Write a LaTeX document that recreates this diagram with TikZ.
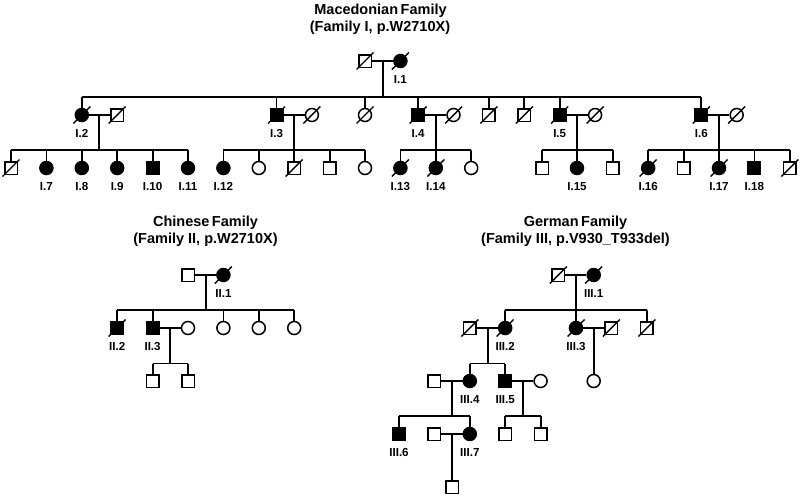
\documentclass[tikz,border=0pt]{standalone}
\usepackage{fontspec}
\setmainfont{Liberation Sans}
\tikzset{
  msq/.style={draw, rectangle, minimum size=12.5pt, inner sep=0pt, line width=1.5pt, fill=white},
  fci/.style={draw, circle, minimum size=13pt, inner sep=0pt, line width=1.5pt, fill=white},
  aff/.style={fill=black},
  link/.style={line width=1.8pt},
  dline/.style={line width=1.4pt},
  lbl/.style={font=\fontsize{11.6}{13}\selectfont\bfseries, anchor=base, inner sep=0pt},
  ttl/.style={font=\fontsize{14.5}{17}\selectfont\bfseries, anchor=base, inner sep=0pt},
}
\newcommand{\deadmark}[1]{\draw[dline] ([shift={(-8.5,8.5)}]#1.center) -- ([shift={(8.5,-8.5)}]#1.center);}
\newcommand{\plabel}[2]{\node[lbl] (l#1) at ([yshift=-22.5pt]#1.center) {#2};}
\newcommand{\tochild}[2]{\draw[link] (#1.north) -- (#1 |- #2);}
\begin{document}
\begin{tikzpicture}[x=1pt,y=-1pt]
\useasboundingbox (0,0) rectangle (800,496);

% ---------------- titles
\node[ttl] (t1a) at (380.5,14) {Macedonian\hspace{-1.5pt} Family};
\node[ttl] (t1b) at (380,31.8) {(Family I, p.W2710X)};
\node[ttl] (t2a) at (205.5,226) {Chinese\hspace{-1.5pt} Family};
\node[ttl] (t2b) at (205.5,243) {(Family II, p.W2710X)};
\node[ttl] (t3a) at (575.5,226) {German\hspace{-1.5pt} Family};
\node[ttl] (t3b) at (575.5,243) {(Family III, p.V930\_T933del)};

% ================= Macedonian family
\node[msq] (F0) at (365,61) {};
\node[fci,aff] (I1) at (400.4,61) {};
% generation 2
\node[fci,aff] (I2) at (81.8,115) {};
\node[msq] (S2) at (117.2,115) {};
\node[msq,aff] (I3) at (276.5,115) {};
\node[fci] (S3) at (311.9,115) {};
\node[fci] (C1) at (365,115) {};
\node[msq,aff] (I4) at (418.1,115) {};
\node[fci] (S4) at (453.5,115) {};
\node[msq] (B1) at (488.9,115) {};
\node[msq] (B2) at (524.3,115) {};
\node[msq,aff] (I5) at (559.7,115) {};
\node[fci] (S5) at (595.1,115) {};
\node[msq,aff] (I6) at (701.3,115) {};
\node[fci] (S6) at (736.7,115) {};
% generation 3
\node[msq] (G1) at (11,168) {};
\node[fci,aff] (I7) at (46.4,168) {};
\node[fci,aff] (I8) at (81.8,168) {};
\node[fci,aff] (I9) at (117.2,168) {};
\node[msq,aff] (I10) at (152.6,168) {};
\node[fci,aff] (I11) at (188,168) {};
\node[fci,aff] (I12) at (223.4,168) {};
\node[fci] (H1) at (258.8,168) {};
\node[msq] (H2) at (294.2,168) {};
\node[msq] (H3) at (329.6,168) {};
\node[fci] (H4) at (365,168) {};
\node[fci,aff] (I13) at (400.4,168) {};
\node[fci,aff] (I14) at (435.8,168) {};
\node[fci] (J1) at (471.2,168) {};
\node[msq] (K1) at (542,168) {};
\node[fci,aff] (I15) at (577,168) {};
\node[msq] (K2) at (612.8,168) {};
\node[fci,aff] (I16) at (648.2,168) {};
\node[msq] (L1) at (683.6,168) {};
\node[fci,aff] (I17) at (719,168) {};
\node[msq,aff] (I18) at (754.4,168) {};
\node[msq] (L2) at (789.8,168) {};

% couples and descents
\draw[link] (F0) -- (I1);
\coordinate (c0) at (383,61); \coordinate (s0) at (383,97);
\draw[link] (c0) -- (s0);
\draw[link] (I2 |- s0) -- (I6 |- s0);
\foreach \n in {I2,I3,C1,I4,B1,B2,I5,I6} {\tochild{\n}{s0}}

\draw[link] (I2) -- (S2);
\coordinate (c2) at (99,115); \coordinate (s2) at (99,150);
\draw[link] (c2) -- (s2);
\draw[link] (G1 |- s2) -- (I11 |- s2);
\foreach \n in {G1,I7,I8,I9,I10,I11} {\tochild{\n}{s2}}

\draw[link] (I3) -- (S3);
\coordinate (c3) at (294.2,115); \coordinate (s3) at (294.2,150);
\draw[link] (c3) -- (s3);
\draw[link] (I12 |- s3) -- (H4 |- s3);
\foreach \n in {I12,H1,H2,H3,H4} {\tochild{\n}{s3}}

\draw[link] (I4) -- (S4);
\coordinate (c4) at (435.8,115); \coordinate (s4) at (435.8,150);
\draw[link] (c4) -- (s4);
\draw[link] (I13 |- s4) -- (J1 |- s4);
\foreach \n in {I13,I14,J1} {\tochild{\n}{s4}}

\draw[link] (I5) -- (S5);
\coordinate (c5) at (577,115); \coordinate (s5) at (577,150);
\draw[link] (c5) -- (s5);
\draw[link] (K1 |- s5) -- (K2 |- s5);
\foreach \n in {K1,I15,K2} {\tochild{\n}{s5}}

\draw[link] (I6) -- (S6);
\coordinate (c6) at (719,115); \coordinate (s6) at (719,150);
\draw[link] (c6) -- (s6);
\draw[link] (I16 |- s6) -- (L2 |- s6);
\foreach \n in {I16,L1,I17,I18,L2} {\tochild{\n}{s6}}

% deceased marks
\foreach \n in {F0,I1,I2,S2,I3,S3,C1,I4,S4,B1,B2,I5,S5,I6,S6,G1,H2,I13,I14,I16,I17,L2} {\deadmark{\n}}

% labels
\plabel{I1}{I.1}
\plabel{I2}{I.2}
\plabel{I3}{I.3}
\plabel{I4}{I.4}
\plabel{I5}{I.5}
\plabel{I6}{I.6}
\plabel{I7}{I.7}
\plabel{I8}{I.8}
\plabel{I9}{I.9}
\plabel{I10}{I.10}
\plabel{I11}{I.11}
\plabel{I12}{I.12}
\plabel{I13}{I.13}
\plabel{I14}{I.14}
\plabel{I15}{I.15}
\plabel{I16}{I.16}
\plabel{I17}{I.17}
\plabel{I18}{I.18}

% ================= Chinese family
\node[msq] (CF) at (188,275) {};
\node[fci,aff] (II1) at (223.4,275) {};
\node[msq,aff] (II2) at (117.2,328) {};
\node[msq,aff] (II3) at (152.6,328) {};
\node[fci] (CS) at (188,328) {};
\node[fci] (CC1) at (223.4,328) {};
\node[fci] (CC2) at (258.8,328) {};
\node[fci] (CC3) at (294.2,328) {};
\node[msq] (CG1) at (152.6,381) {};
\node[msq] (CG2) at (188,381) {};

\draw[link] (CF) -- (II1);
\coordinate (cc0) at (205.7,275); \coordinate (cs0) at (205.7,310);
\draw[link] (cc0) -- (cs0);
\draw[link] (II2 |- cs0) -- (CC3 |- cs0);
\foreach \n in {II2,II3,CC1,CC2,CC3} {\tochild{\n}{cs0}}
\draw[link] (II3) -- (CS);
\coordinate (cc1) at (170.3,328); \coordinate (cs1) at (170.3,363.5);
\draw[link] (cc1) -- (cs1);
\draw[link] (CG1 |- cs1) -- (CG2 |- cs1);
\foreach \n in {CG1,CG2} {\tochild{\n}{cs1}}

\deadmark{II1}
\deadmark{II2}
\plabel{II1}{II.1}
\plabel{II2}{II.2}
\plabel{II3}{II.3}

% ================= German family
\node[msq] (GF) at (558.3,275) {};
\node[fci,aff] (III1) at (593.7,275) {};
\node[msq] (GS2) at (469.8,328) {};
\node[fci,aff] (III2) at (505.2,328) {};
\node[fci,aff] (III3) at (576,328) {};
\node[msq] (GS3) at (611.4,328) {};
\node[msq] (GB) at (646.8,328) {};
\node[msq] (GS4) at (434.4,381) {};
\node[fci,aff] (III4) at (469.8,381) {};
\node[msq,aff] (III5) at (505.2,381) {};
\node[fci] (GS5) at (540.6,381) {};
\node[fci] (GD) at (593.7,381) {};
\node[msq,aff] (III6) at (399,434) {};
\node[msq] (GS7) at (434.4,434) {};
\node[fci,aff] (III7) at (469.8,434) {};
\node[msq] (GC1) at (505.2,434) {};
\node[msq] (GC2) at (540.6,434) {};
\node[msq] (GG) at (452.1,487) {};

\draw[link] (GF) -- (III1);
\coordinate (gc0) at (576,275); \coordinate (gs0) at (576,310);
\draw[link] (gc0) -- (gs0);
\draw[link] (III2 |- gs0) -- (GB |- gs0);
\foreach \n in {III2,III3,GB} {\tochild{\n}{gs0}}

\draw[link] (GS2) -- (III2);
\coordinate (gc1) at (487.8,328); \coordinate (gs1) at (487.8,363.5);
\draw[link] (gc1) -- (gs1);
\draw[link] (III4 |- gs1) -- (III5 |- gs1);
\foreach \n in {III4,III5} {\tochild{\n}{gs1}}

\draw[link] (III3) -- (GS3);
\coordinate (gc2) at (593.7,328);
\draw[link] (gc2) -- (GD.north);

\draw[link] (GS4) -- (III4);
\coordinate (gc3) at (452.1,381); \coordinate (gs3) at (452.1,416);
\draw[link] (gc3) -- (gs3);
\draw[link] (III6 |- gs3) -- (III7 |- gs3);
\foreach \n in {III6,III7} {\tochild{\n}{gs3}}

\draw[link] (III5) -- (GS5);
\coordinate (gc4) at (522.9,381); \coordinate (gs4) at (522.9,416);
\draw[link] (gc4) -- (gs4);
\draw[link] (GC1 |- gs4) -- (GC2 |- gs4);
\foreach \n in {GC1,GC2} {\tochild{\n}{gs4}}

\draw[link] (GS7) -- (III7);
\coordinate (gc5) at (452.1,434);
\draw[link] (gc5) -- (GG.north);

\foreach \n in {GF,III1,GS2,III2,III3,GS3,GB} {\deadmark{\n}}

\plabel{III1}{III.1}
\plabel{III2}{III.2}
\plabel{III3}{III.3}
\plabel{III4}{III.4}
\plabel{III5}{III.5}
\plabel{III6}{III.6}
\plabel{III7}{III.7}
\end{tikzpicture}
\end{document}
